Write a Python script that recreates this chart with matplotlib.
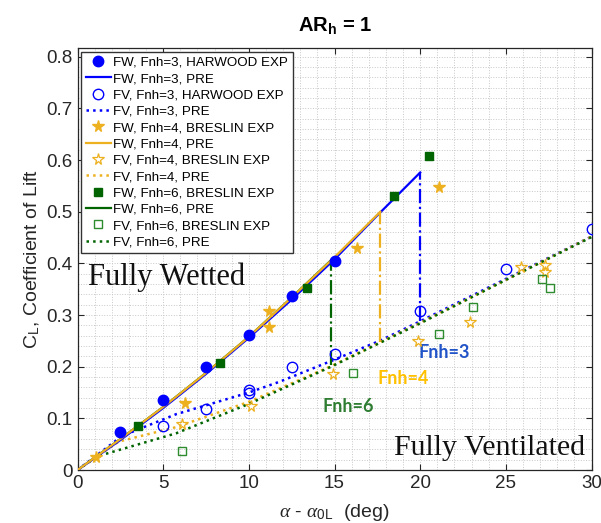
import numpy as np
import matplotlib
matplotlib.use('Agg')
import matplotlib.pyplot as plt
from matplotlib.ticker import MultipleLocator

plt.rcParams['font.family'] = ['Liberation Sans', 'DejaVu Sans']
plt.rcParams['mathtext.fontset'] = 'custom'
plt.rcParams['mathtext.rm'] = 'Liberation Sans'
plt.rcParams['mathtext.it'] = 'Liberation Serif:italic'
plt.rcParams['mathtext.bf'] = 'Liberation Sans:bold'

BLUE = '#0000ff'
ORANGE = '#edb120'
GREEN = '#006400'

# experiments, fully wetted (FW) and fully ventilated (FV)
fw3_x = [2.5, 5.0, 7.5, 10.0, 12.5, 15.0]
fw3_y = [0.073, 0.135, 0.199, 0.261, 0.337, 0.404]
fv3_x = [5.0, 7.5, 10.0, 10.0, 12.5, 15.0, 20.0, 25.0, 30.0]
fv3_y = [0.086, 0.119, 0.155, 0.150, 0.199, 0.224, 0.308, 0.390, 0.466]

fw4_x = [1.1, 6.3, 11.2, 11.2, 16.3, 21.1]
fw4_y = [0.026, 0.129, 0.308, 0.277, 0.429, 0.547]
fv4_x = [6.1, 10.1, 14.9, 19.9, 22.9, 25.9, 27.3, 27.3]
fv4_y = [0.090, 0.123, 0.185, 0.250, 0.286, 0.393, 0.397, 0.384]

fw6_x = [3.55, 8.3, 13.4, 18.5, 20.5]
fw6_y = [0.085, 0.208, 0.352, 0.531, 0.608]
fv6_x = [6.1, 16.1, 21.1, 23.1, 27.1, 27.6]
fv6_y = [0.037, 0.188, 0.263, 0.315, 0.370, 0.352]

# predictions
pre_fw3_x = [0, 2.5, 5, 7.5, 10, 12.5, 15, 17.5, 20]
pre_fw3_y = [0, 0.058, 0.120, 0.186, 0.256, 0.330, 0.408, 0.493, 0.576]
pre_fw4_x = [0, 2.5, 5, 7.5, 10, 12.5, 15, 17.67]
pre_fw4_y = [0, 0.060, 0.122, 0.188, 0.258, 0.334, 0.412, 0.500]
pre_fw6_x = [0, 2.5, 5, 7.5, 10, 12.5, 14.79]
pre_fw6_y = [0, 0.060, 0.122, 0.188, 0.258, 0.334, 0.406]

pre_fv3_x = [0, 2.6, 5.75, 10, 11.8, 14.8, 17.7, 20, 25, 30]
pre_fv3_y = [0, 0.066, 0.108, 0.150, 0.171, 0.211, 0.251, 0.288, 0.370, 0.452]
pre_fv4_x = [0, 2.4, 5.75, 10, 11.8, 14.8, 17.7, 20, 25, 30]
pre_fv4_y = [0, 0.055, 0.083, 0.132, 0.158, 0.201, 0.248, 0.285, 0.368, 0.452]
pre_fv6_x = [0, 1.1, 5.75, 10, 11.8, 14.8, 17.7, 20, 25, 30]
pre_fv6_y = [0, 0.026, 0.071, 0.128, 0.155, 0.200, 0.247, 0.284, 0.368, 0.451]

# transition from FW to FV
drop_x = [20.0, 17.67, 14.79]
drop_top = [0.576, 0.500, 0.406]
drop_bot = [0.288, 0.248, 0.203]

fig = plt.figure(figsize=(6.01, 5.23), dpi=100)
ax = fig.add_axes([0.129, 0.1013, 0.8552, 0.8069])

h = []
h += ax.plot(fw3_x, fw3_y, 'o', color=BLUE, ms=7.5, zorder=5)
h += ax.plot(pre_fw3_x, pre_fw3_y, '-', color=BLUE, lw=1.6, zorder=3)
h += ax.plot(fv3_x, fv3_y, 'o', mfc='none', mec=BLUE, ms=7.5, mew=1.0, zorder=5)
h += ax.plot(pre_fv3_x, pre_fv3_y, ':', color=BLUE, lw=1.8, zorder=2)
h += ax.plot(fw4_x, fw4_y, '*', color=ORANGE, ms=8.5, zorder=5)
h += ax.plot(pre_fw4_x, pre_fw4_y, '-', color=ORANGE, lw=1.6, zorder=4)
h += ax.plot(fv4_x, fv4_y, '*', mfc='none', mec=ORANGE, ms=8.5, mew=0.9, zorder=5)
h += ax.plot(pre_fv4_x, pre_fv4_y, ':', color=ORANGE, lw=1.8, zorder=2)
h += ax.plot(fw6_x, fw6_y, 's', color=GREEN, ms=6, zorder=5)
h += ax.plot(pre_fw6_x, pre_fw6_y, '-', color=GREEN, lw=1.6, zorder=2)
h += ax.plot(fv6_x, fv6_y, 's', mfc='none', mec='#2e8b2e', ms=6, mew=1.0, zorder=5)
h += ax.plot(pre_fv6_x, pre_fv6_y, ':', color=GREEN, lw=1.8, zorder=2)

for x, top, bot, c in zip(drop_x, drop_top, drop_bot, [BLUE, ORANGE, GREEN]):
    ax.plot([x, x], [bot, top], '-.', color=c, lw=1.6, zorder=3)

labels = ['FW, Fnh=3, HARWOOD EXP', 'FW, Fnh=3, PRE',
          'FV, Fnh=3, HARWOOD EXP', 'FV, Fnh=3, PRE',
          'FW, Fnh=4, BRESLIN EXP', 'FW, Fnh=4, PRE',
          'FV, Fnh=4, BRESLIN EXP', 'FV, Fnh=4, PRE',
          'FW, Fnh=6, BRESLIN EXP', 'FW, Fnh=6, PRE',
          'FV, Fnh=6, BRESLIN EXP', 'FV, Fnh=6, PRE']
leg = ax.legend(h, labels, loc='upper left', bbox_to_anchor=(0.007, 0.991),
                borderaxespad=0, fontsize=9.6, labelspacing=0.3,
                handlelength=1.9, handletextpad=0.15, borderpad=0.35,
                fancybox=False, framealpha=1, edgecolor='#333333')
leg.get_frame().set_linewidth(1.0)
leg.set_zorder(10)

ax.text(0.61, 0.358, 'Fully Wetted', family='Liberation Serif', fontsize=22,
        ha='left', va='baseline', color='#111111')
ax.text(29.64, 0.029, 'Fully Ventilated', family='Liberation Serif', fontsize=21.5,
        ha='right', va='baseline', color='#111111')
ax.text(19.89, 0.2174, 'Fnh=3', family='Lato', fontweight='bold', fontsize=13,
        color='#2154c8', va='baseline')
ax.text(17.49, 0.1664, 'Fnh=4', family='Lato', fontweight='bold', fontsize=13,
        color='#ffc000', va='baseline')
ax.text(14.28, 0.1116, 'Fnh=6', family='Lato', fontweight='bold', fontsize=13,
        color='#2e7d32', va='baseline')

ax.set_xlim(0, 30)
ax.set_ylim(0, 0.817)
ax.xaxis.set_major_locator(MultipleLocator(5))
ax.xaxis.set_minor_locator(MultipleLocator(1))
ax.yaxis.set_major_locator(MultipleLocator(0.1))
ax.yaxis.set_minor_locator(MultipleLocator(0.02))
ax.set_yticks([0, 0.1, 0.2, 0.3, 0.4, 0.5, 0.6, 0.7, 0.8])
ax.set_yticklabels(['0', '0.1', '0.2', '0.3', '0.4', '0.5', '0.6', '0.7', '0.8'])
ax.grid(which='both', linestyle=':', color='#c8c8c8', lw=0.7)
ax.set_axisbelow(True)
ax.tick_params(which='major', direction='in', top=True, right=True, length=4,
               labelsize=13.5, colors='#262626', width=0.8)
ax.tick_params(which='minor', length=0, top=True, right=True)
for s in ax.spines.values():
    s.set_color('#262626')
    s.set_linewidth(0.9)

ax.set_title(r'$\mathbf{AR_h}$ = 1', fontsize=14.5, fontweight='bold', pad=12)
ax.set_xlabel(r'$\alpha$ - $\alpha_{\mathrm{0L}}$  (deg)', fontsize=14, color='#262626', labelpad=7)
ax.set_ylabel(r'C$_{\mathrm{L}}$, Coefficient of Lift', fontsize=14, color='#262626', labelpad=3)

fig.savefig('out.png', dpi=100)
